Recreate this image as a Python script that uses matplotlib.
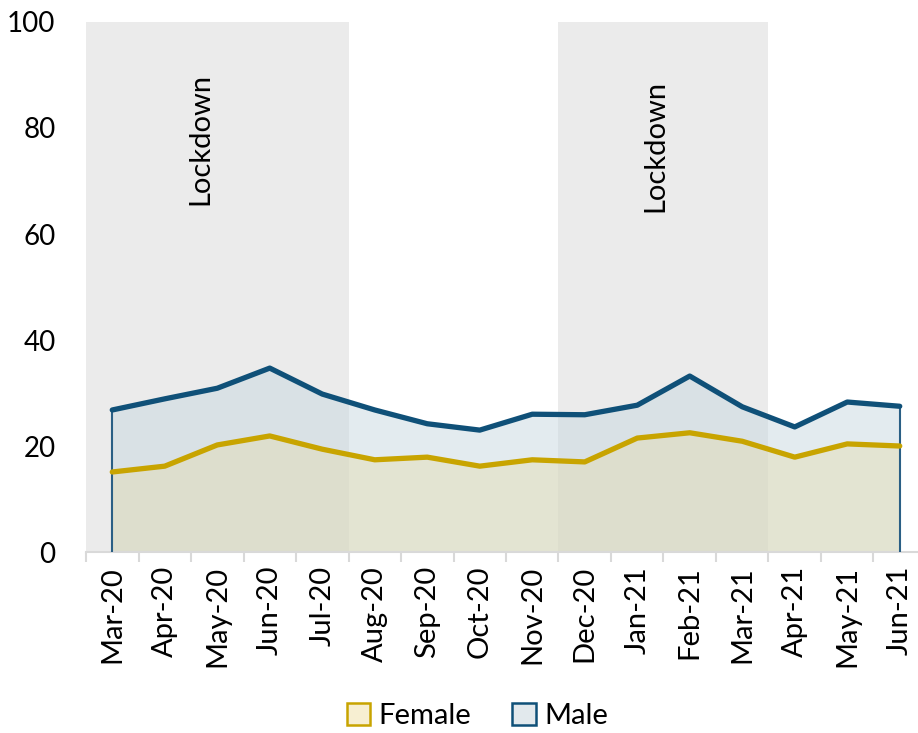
import matplotlib.pyplot as plt
from matplotlib.patches import Patch

months = ['Mar-20', 'Apr-20', 'May-20', 'Jun-20', 'Jul-20', 'Aug-20', 'Sep-20', 'Oct-20',
          'Nov-20', 'Dec-20', 'Jan-21', 'Feb-21', 'Mar-21', 'Apr-21', 'May-21', 'Jun-21']
male = [26.8, 28.9, 30.9, 34.7, 29.8, 26.8, 24.2, 23.0, 26.0, 25.9, 27.7, 33.2, 27.4, 23.6, 28.3, 27.5]
female = [15.1, 16.2, 20.2, 21.9, 19.4, 17.4, 17.9, 16.2, 17.4, 17.0, 21.5, 22.5, 20.9, 17.9, 20.4, 20.0]
lockdowns = [(-0.5, 4.5), (8.5, 12.5)]
lockdown_label = 'Lockdown'

plt.rcParams['font.family'] = ['Lato', 'DejaVu Sans']

fig = plt.figure(figsize=(9.18, 7.33), dpi=100)
ax = fig.add_axes([0.0937, 0.2469, 0.915, 0.7231])

x = list(range(len(months)))
blue = '#0f5078'
gold = '#c8a400'

# label placement inside each shaded band
label_pos = [(2.18, 78), (1.84, 76.6)]
for (start, end), (dx, ty) in zip(lockdowns, label_pos):
    ax.axvspan(start, end, color='#ebebeb', zorder=0, lw=0)
    ax.text(start + dx, ty, lockdown_label, rotation=90, ha='center', va='center',
            fontsize=21, color='black', zorder=5)

ax.fill_between(x, 0, male, color='#c9d8e1', alpha=0.5, lw=0, zorder=1)
ax.fill_between(x, 0, female, color='#e3dcb0', alpha=0.45, lw=0, zorder=2)
ax.vlines([x[0], x[-1]], 0, [male[0], male[-1]], color='#2a5f85', lw=1.5, zorder=3)
ax.plot(x, male, color=blue, lw=3.8, zorder=4, solid_capstyle='round')
ax.plot(x, female, color=gold, lw=3.8, zorder=4, solid_capstyle='round')

ax.set_xlim(-0.5, 15.5)
ax.set_ylim(0, 100)
ax.set_yticks([0, 20, 40, 60, 80, 100])
ax.set_xticks(x)
ax.set_xticklabels(months, rotation=90, fontsize=21)
ax.set_xticks([i + 0.5 for i in range(-1, len(months))], minor=True)
ax.tick_params(axis='x', which='major', length=0, pad=10)
ax.tick_params(axis='x', which='minor', length=7, color='#d9d9d9', width=1.5)
ax.tick_params(axis='y', length=0, labelsize=20, pad=22)
for side in ['top', 'right', 'left']:
    ax.spines[side].set_visible(False)
ax.spines['bottom'].set_color('#d9d9d9')
ax.spines['bottom'].set_linewidth(1.5)

handles = [Patch(facecolor='#f7efd2', edgecolor=gold, lw=1.8, label='Female'),
           Patch(facecolor='#e2e9ed', edgecolor=blue, lw=1.8, label='Male')]
fig.legend(handles=handles, loc='center', bbox_to_anchor=(0.52, 0.023), ncol=2, frameon=False,
           fontsize=21, handlelength=0.8, handleheight=0.8, handletextpad=0.3, columnspacing=1.4)

fig.savefig('out.png', dpi=100)
